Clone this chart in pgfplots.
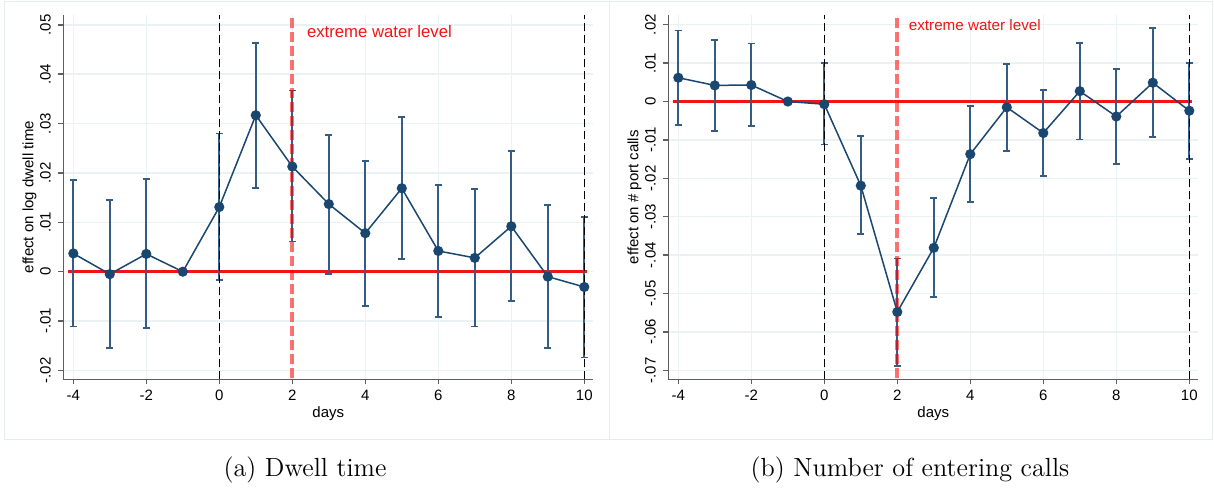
\documentclass[border=0pt]{standalone}
\usepackage{fontspec}
\newfontfamily\chartfont{Liberation Sans}
\usepackage{pgfplots}
\usepackage{pgfplotstable}
\pgfplotsset{compat=1.18}

\definecolor{navy}{RGB}{26,71,111}
\definecolor{cicol}{RGB}{52,92,132}
\definecolor{gridcol}{RGB}{234,242,243}
\definecolor{axcol}{RGB}{95,95,95}
\definecolor{boxcol}{RGB}{230,237,237}
\definecolor{refred}{RGB}{240,20,20}

% x  estimate  ci-low  ci-high
\pgfplotstableread{
x   y        lo       hi
-4  0.0037  -0.0111   0.0186
-3 -0.0005  -0.0155   0.0145
-2  0.0036  -0.0114   0.0187
-1  0        0        0
0   0.0131  -0.0017   0.0280
1   0.0317   0.0169   0.0464
2   0.0213   0.0061   0.0367
3   0.0137  -0.0004   0.0277
4   0.0078  -0.0069   0.0224
5   0.0169   0.0025   0.0313
6   0.0042  -0.0091   0.0175
7   0.0028  -0.0111   0.0168
8   0.0092  -0.0060   0.0245
9  -0.0010  -0.0155   0.0135
10 -0.0031  -0.0174   0.0111
}\dwell

\pgfplotstableread{
x   y        lo       hi
-4  0.0062  -0.0061   0.0185
-3  0.0042  -0.0077   0.0161
-2  0.0043  -0.0063   0.0151
-1  0        0        0
0  -0.0007  -0.0112   0.0100
1  -0.0219  -0.0346  -0.0090
2  -0.0548  -0.0688  -0.0409
3  -0.0381  -0.0510  -0.0252
4  -0.0137  -0.0262  -0.0011
5  -0.0015  -0.0128   0.0097
6  -0.0082  -0.0194   0.0029
7   0.0027  -0.0099   0.0152
8  -0.0039  -0.0162   0.0084
9   0.0049  -0.0092   0.0192
10 -0.0024  -0.0149   0.0101
}\calls

\pgfplotsset{
  stataplot/.style={
    scale only axis, width=265pt, height=182.15pt,
    axis lines=left, axis line style={-, axcol, line width=0.75pt},
    xmin=-4.274, xmax=10.247,
    xtick={-4,-2,0,2,4,6,8,10}, xticklabels={-4,-2,0,2,4,6,8,10},
    scaled y ticks=false,
    tick align=outside, major tick length=2.5pt,
    tick style={axcol, line width=0.75pt},
    grid=major, major grid style={gridcol, line width=0.75pt},
    font=\fontsize{7.5}{9}\chartfont,
    xticklabel style={anchor=base, inner sep=0pt},
    yticklabel style={rotate=90, anchor=base, inner sep=0pt},
    xticklabel shift=7.85pt, yticklabel shift=3.8pt,
    every axis x label/.style={at={(axis description cs:0.5,-0.1043)}, anchor=base},
    every axis y label/.style={at={(axis description cs:-0.0566,0.5)}, anchor=base, rotate=90},
    xlabel={days},
    clip=false,
  },
  est/.style={draw=navy, line width=0.75pt, mark=*, mark size=2.15pt,
    mark options={fill=navy, draw=navy},
    error bars/.cd, y dir=both, y explicit,
    error bar style={draw=cicol, line width=0.9pt},
    error mark=|,
    error mark options={draw=cicol, line width=0.9pt, mark size=1.8pt}},
  zeroline/.style={draw=refred, line width=1.2pt},
  blackdash/.style={black, line width=0.65pt, dash pattern=on 4pt off 2pt},
  reddash/.style={red, opacity=0.55, line width=2pt, dash pattern=on 5pt off 2pt},
}

\begin{document}
\begin{tikzpicture}
\useasboundingbox (0,0) rectangle (607pt,-244.5pt);
\draw[boxcol, line width=0.5pt] (2.15pt,-0.5pt) rectangle (304.5pt,-219.5pt);
\draw[boxcol, line width=0.5pt] (304.5pt,-0.5pt) rectangle (606.35pt,-219.5pt);

\begin{axis}[stataplot, at={(31.65pt,-7.5pt)}, anchor=north west,
  ymin=-0.0218, ymax=0.052,
  ytick={-0.02,-0.01,0,0.01,0.02,0.03,0.04,0.05},
  yticklabels={-.02,-.01,0,.01,.02,.03,.04,.05},
  ylabel={effect on log dwell time}]
  \addplot[zeroline] coordinates {(-4.14,0) (10.07,0)};
  \addplot[est] table[x=x, y=y,
    y error plus expr=\thisrow{hi}-\thisrow{y},
    y error minus expr=\thisrow{y}-\thisrow{lo}] {\dwell};
  \addplot[blackdash] coordinates {(0,-0.0218) (0,0.052)};
  \addplot[blackdash] coordinates {(10,-0.0218) (10,0.052)};
  \addplot[reddash] coordinates {(2,-0.0215) (2,0.052)};
  \node[anchor=west, inner sep=0pt, text=refred, font=\fontsize{8.35}{10}\chartfont] at (axis cs:2.394,0.04857) {extreme water level};
\end{axis}

\begin{axis}[stataplot, at={(334.15pt,-7.5pt)}, anchor=north west,
  ymin=-0.07234, ymax=0.02253,
  ytick={-0.07,-0.06,-0.05,-0.04,-0.03,-0.02,-0.01,0,0.01,0.02},
  yticklabels={-.07,-.06,-.05,-.04,-.03,-.02,-.01,0,.01,.02},
  ylabel={effect on \# port calls}]
  \addplot[zeroline] coordinates {(-4.14,0) (10.07,0)};
  \addplot[est] table[x=x, y=y,
    y error plus expr=\thisrow{hi}-\thisrow{y},
    y error minus expr=\thisrow{y}-\thisrow{lo}] {\calls};
  \addplot[blackdash] coordinates {(0,-0.07234) (0,0.02253)};
  \addplot[blackdash] coordinates {(10,-0.07234) (10,0.02253)};
  \addplot[reddash] coordinates {(2,-0.0721) (2,0.02253)};
  \node[anchor=west, inner sep=0pt, text=refred, font=\fontsize{7.6}{9}\chartfont] at (axis cs:2.308,0.01992) {extreme water level};
\end{axis}

\node[anchor=base, font=\fontsize{13.1}{16}\selectfont] at (152.5pt,-238.35pt) {(a) Dwell time};
\node[anchor=base, font=\fontsize{13.1}{16}\selectfont] at (455pt,-238.35pt) {(b) Number of entering calls};
\end{tikzpicture}
\end{document}
